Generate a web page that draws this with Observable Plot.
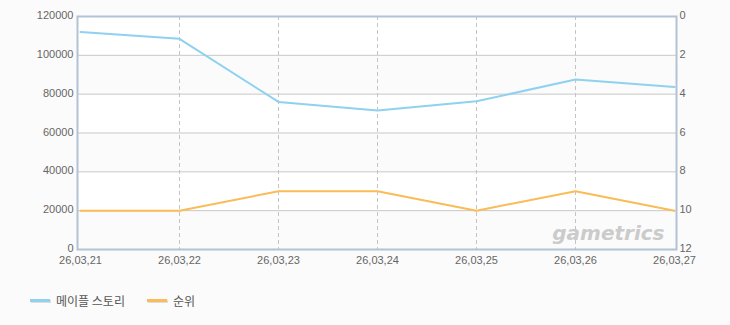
<!DOCTYPE html>
<html>
<head>
<meta charset="utf-8">
<script src="https://cdn.jsdelivr.net/npm/d3@7"></script>
<script src="https://cdn.jsdelivr.net/npm/@observablehq/plot@0.6"></script>
<style>
  html, body { margin: 0; padding: 0; background: #fbfbfb; }
  #chart { position: relative; width: 730px; height: 325px; }
  #chart svg { position: absolute; left: 0; top: 0; background: transparent; }
  .legend { position: absolute; top: 292px; left: 30px; display: flex; align-items: center;
    font-family: "Noto Sans CJK KR", "DejaVu Sans", sans-serif; font-size: 12px; color: #555; }
  .item { display: flex; align-items: center; margin-right: 22px; }
  .sw { width: 20px; height: 3px; margin-right: 6px; box-shadow: 1px 1px 0 #ddd; }
</style>
</head>
<body>
<div id="chart"></div>
<script>
const dates = ["26,03,21", "26,03,22", "26,03,23", "26,03,24", "26,03,25", "26,03,26", "26,03,27"];
const players = [112000, 108500, 76000, 71600, 76300, 87600, 83700];
const ranks = [10, 10, 9, 9, 10, 9, 10];
const leftTicks = [0, 20000, 40000, 60000, 80000, 100000, 120000];
const rankTicks = [0, 2, 4, 6, 8, 10, 12];
const seriesNames = ["메이플 스토리", "순위"];
const colors = ["#8fd1f0", "#fbbb57"];
const watermark = "gametrics";

const rankMax = 12, leftMax = 120000;
const rankToY = r => (rankMax - r) * leftMax / rankMax;

const playerData = dates.map((d, i) => ({date: d, v: players[i]}));
const rankData = dates.map((d, i) => ({date: d, v: rankToY(ranks[i])}));
const bands = leftTicks.slice(0, -1).map((t, i) => ({y1: t, y2: leftTicks[i + 1], shade: i % 2 === 0}));

const chart = Plot.plot({
  width: 730,
  height: 275,
  marginLeft: 77,
  marginRight: 54,
  marginTop: 16,
  marginBottom: 26,
  style: {fontFamily: "'Liberation Sans', Arial, sans-serif", fontSize: "11px", color: "#666", background: "transparent"},
  x: {type: "point", domain: dates, padding: 0, axis: null},
  y: {domain: [0, leftMax], axis: null},
  marks: [
    Plot.rect(bands, {y1: "y1", y2: "y2", fill: d => d.shade ? "#fbfbfb" : "#ffffff"}),
    Plot.gridY(leftTicks, {stroke: "#c8c8c8", strokeOpacity: 1}),
    Plot.ruleX(dates.slice(1, -1), {stroke: "#c4c4c4", strokeDasharray: "4,3"}),
    Plot.text([watermark], {frameAnchor: "bottom-right", dx: -12, dy: -10, text: d => d, fill: "#cbcbcb", fontSize: 20, fontWeight: "bold", fontStyle: "italic", fontFamily: "'DejaVu Sans', sans-serif"}),
    Plot.line(playerData, {x: "date", y: "v", stroke: colors[0], strokeWidth: 2}),
    Plot.line(rankData, {x: "date", y: "v", stroke: colors[1], strokeWidth: 2}),
    Plot.frame({stroke: "#b2c3d6", strokeWidth: 2}),
    Plot.axisY(leftTicks, {anchor: "left", tickSize: 0, tickPadding: 4, dy: -1, label: null, tickFormat: d => String(d), fill: "#666"}),
    Plot.axisY(rankTicks.map(rankToY), {anchor: "right", tickSize: 0, tickPadding: 3, dy: -1, label: null, tickFormat: d => String(rankMax - d * rankMax / leftMax), fill: "#666"}),
    Plot.axisX(dates, {anchor: "bottom", tickSize: 0, tickPadding: 7, label: null, fill: "#666"})
  ]
});

const root = document.getElementById("chart");
root.appendChild(chart);

const legend = document.createElement("div");
legend.className = "legend";
seriesNames.forEach((n, i) => {
  const it = document.createElement("div");
  it.className = "item";
  const sw = document.createElement("span");
  sw.className = "sw";
  sw.style.background = colors[i];
  const tx = document.createElement("span");
  tx.textContent = n;
  it.appendChild(sw);
  it.appendChild(tx);
  legend.appendChild(it);
});
root.appendChild(legend);
</script>
</body>
</html>
